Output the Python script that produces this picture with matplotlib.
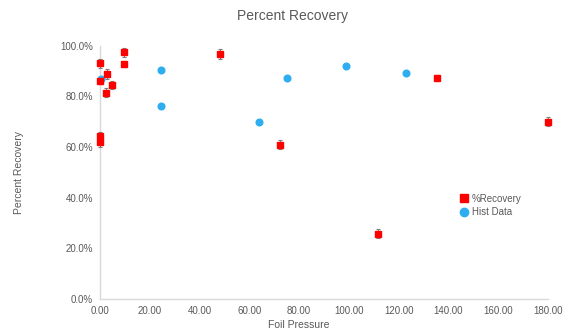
import matplotlib.pyplot as plt
from matplotlib.lines import Line2D
from matplotlib.ticker import FuncFormatter

# %Recovery series (foil pressure, percent)
rec_x = [0.0, 0.0, 2.7, 2.4, 4.8, 9.8, 9.5, 48.1, 0.0, 0.0, 72.5, 111.5, 135.3, 180.0]
rec_y = [93.2, 86.3, 88.9, 81.5, 84.6, 97.5, 93.0, 96.8, 64.2, 61.9, 60.9, 25.7, 87.5, 70.1]
rec_err = [1.8, 1.5, 1.8, 1.8, 1.5, 1.8, 1.2, 2.0, 1.8, 1.8, 1.8, 1.8, 0.8, 1.8]

# historical data
hist_x = [0.4, 24.6, 24.4, 63.7, 75.0, 98.7, 122.8]
hist_y = [87.0, 90.5, 76.4, 70.0, 87.4, 92.2, 89.2]

x_ticks = [0, 20, 40, 60, 80, 100, 120, 140, 160, 180]
y_ticks = [0, 20, 40, 60, 80, 100]

plt.rcParams['font.family'] = ['Liberation Sans', 'DejaVu Sans']
grey = '#595959'
red = '#ff0000'
blue = '#2eaef0'

fig = plt.figure(figsize=(5.68, 3.30), dpi=100)
ax = fig.add_axes([0.176, 0.094, 0.789, 0.767])

eb = ax.errorbar(rec_x, rec_y, yerr=rec_err, fmt='s', color=red, markersize=5,
                 markeredgecolor=red, ecolor='#7f7f7f', elinewidth=0.8,
                 capsize=1.6, capthick=0.8, zorder=3)
hl, = ax.plot(hist_x, hist_y, 'o', color=blue, markersize=4.8, zorder=3)

for art in [eb[0], hl] + list(eb[1]) + list(eb[2]):
    art.set_clip_on(False)

ax.set_xlim(0, 180)
ax.set_ylim(0, 100)
ax.set_xticks(x_ticks)
ax.set_yticks(y_ticks)
ax.xaxis.set_major_formatter(FuncFormatter(lambda v, p: f'{v:.2f}'))
ax.yaxis.set_major_formatter(FuncFormatter(lambda v, p: f'{v:.1f}%'))
ax.tick_params(length=0, labelsize=7, colors=grey, pad=5)

for s in ['top', 'right']:
    ax.spines[s].set_visible(False)
for s in ['left', 'bottom']:
    ax.spines[s].set_color('#d9d9d9')
    ax.spines[s].set_linewidth(1.0)

fig.suptitle('Percent Recovery', x=0.515, y=0.972, fontsize=10, color=grey)
ax.set_xlabel('Foil Pressure', fontsize=7.5, color=grey)
ax.xaxis.set_label_coords(0.444, -0.085)
ax.set_ylabel('Percent Recovery', fontsize=7.5, color=grey, labelpad=26)

proxies = [Line2D([], [], ls='none', marker='s', color=red, markersize=6),
           Line2D([], [], ls='none', marker='o', color=blue, markersize=6)]
leg = ax.legend(proxies, ['%Recovery', 'Hist Data'], loc='center left',
                bbox_to_anchor=(0.79, 0.37), frameon=False,
                fontsize=7, handletextpad=0.3, labelspacing=0.35, borderpad=0,
                handlelength=1.0)
for t in leg.get_texts():
    t.set_color(grey)

fig.savefig('out.png', dpi=100)
